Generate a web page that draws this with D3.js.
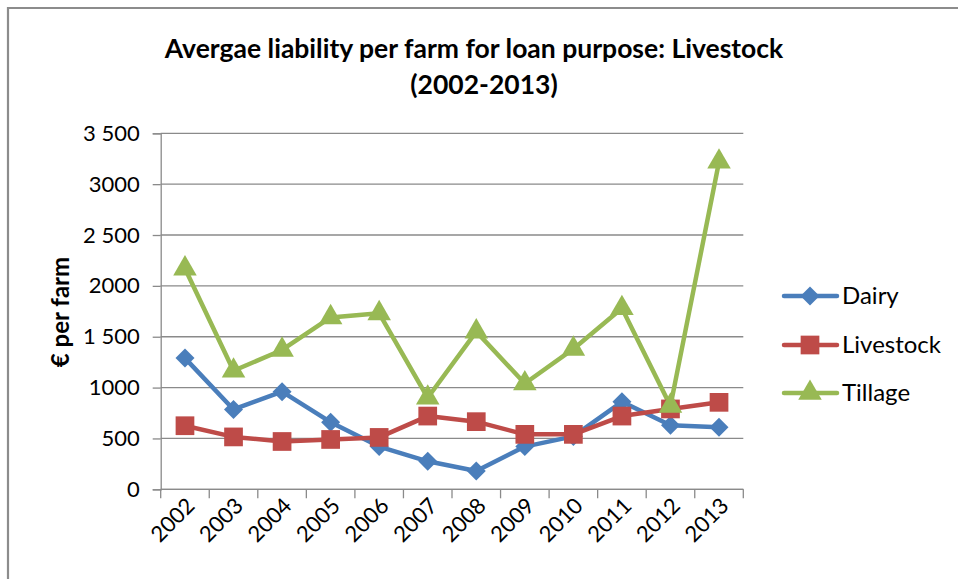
<!DOCTYPE html>
<html>
<head>
<meta charset="utf-8">
<script src="https://cdn.jsdelivr.net/npm/d3@7"></script>
<style>
  html, body { margin: 0; padding: 0; background: #fff; }
  svg { display: block; }
  text { font-family: Lato, "Open Sans", sans-serif; fill: #000; }
</style>
</head>
<body>
<svg id="chart" width="958" height="579"></svg>
<script>
// ---- data ----
const years = ["2002","2003","2004","2005","2006","2007","2008","2009","2010","2011","2012","2013"];
const dairy     = [1290, 785, 960, 660, 420, 275, 180, 420, 520, 860, 630, 610];
const livestock = [625, 515, 470, 490, 510, 720, 665, 540, 540, 720, 790, 855];
const tillage   = [2170, 1165, 1370, 1690, 1730, 900, 1550, 1040, 1380, 1780, 820, 3220];
const seriesNames = ["Dairy", "Livestock", "Tillage"];
const yTickValues = [0, 500, 1000, 1500, 2000, 2500, 3000, 3500];
const yTickLabels = ["0", "500", "1000", "1 500", "2000", "2 500", "3000", "3 500"];
const titleLines = ["Avergae liability per farm for loan purpose: Livestock", "(2002-2013)"];
const yAxisTitle = "€ per farm";

const colors = ["#4a7ebb", "#be4b48", "#98b954"];
const symbols = [d3.symbolDiamond2, d3.symbolSquare, d3.symbolTriangle];
const symSizes = [230, 350, 240];

const svg = d3.select("#chart");

// outer border (top and left visible)
svg.append("path")
  .attr("d", "M8,600 L8,8 L960,8")
  .attr("fill", "none").attr("stroke", "#8c8c8c").attr("stroke-width", 2.2);

const pLeft = 160.7, pRight = 743.3, pTop = 133.3, pBottom = 489.3;
const x = d3.scaleBand().domain(years).range([pLeft, pRight]).padding(0);
const y = d3.scaleLinear().domain([0, 3500]).range([pBottom, pTop]);

// gridlines
svg.append("g").selectAll("line").data(yTickValues).join("line")
  .attr("x1", pLeft).attr("x2", pRight)
  .attr("y1", d => y(d)).attr("y2", d => y(d))
  .attr("stroke", "#8a8a8a").attr("stroke-width", 1.3);

// y axis
const yAxis = d3.axisLeft(y).tickValues(yTickValues).tickSize(8).tickPadding(13)
  .tickFormat((d, i) => yTickLabels[i]);
const gy = svg.append("g").attr("transform", `translate(${pLeft},0)`).call(yAxis);
gy.select(".domain").attr("stroke", "#8a8a8a").attr("stroke-width", 1.3);
gy.selectAll(".tick line").attr("stroke", "#8a8a8a").attr("stroke-width", 1.3);
gy.selectAll(".tick text").attr("font-size", 22).attr("font-family", "Lato").attr("fill", "#000");

// x axis: line + boundary ticks
const gx = svg.append("g");
gx.append("line").attr("x1", pLeft).attr("x2", pRight).attr("y1", pBottom).attr("y2", pBottom)
  .attr("stroke", "#8a8a8a").attr("stroke-width", 1.3);
const boundaries = years.map(d => x(d)).concat([x(years[years.length - 1]) + x.bandwidth()]);
gx.selectAll("line.tk").data(boundaries).join("line").attr("class", "tk")
  .attr("x1", d => d).attr("x2", d => d).attr("y1", pBottom).attr("y2", pBottom + 9)
  .attr("stroke", "#8a8a8a").attr("stroke-width", 1.3);
gx.selectAll("text").data(years).join("text")
  .attr("transform", d => `translate(${x(d) + x.bandwidth() / 2 + 11},${pBottom + 18}) rotate(-45)`)
  .attr("text-anchor", "end")
  .attr("font-size", 22)
  .text(d => d);

// series
const allSeries = [dairy, livestock, tillage];
const line = d3.line().x((d, i) => x(years[i]) + x.bandwidth() / 2).y(d => y(d));
allSeries.forEach((vals, si) => {
  svg.append("path").datum(vals)
    .attr("d", line).attr("fill", "none")
    .attr("stroke", colors[si]).attr("stroke-width", 4.5).attr("stroke-linejoin", "round").attr("stroke-linecap", "round");
});
allSeries.forEach((vals, si) => {
  svg.append("g").selectAll("path").data(vals).join("path")
    .attr("d", d3.symbol().type(symbols[si]).size(symSizes[si]))
    .attr("transform", (d, i) => `translate(${x(years[i]) + x.bandwidth() / 2},${y(d)})`)
    .attr("fill", colors[si]);
});

// title
svg.append("text").attr("x", 474).attr("y", 58).attr("text-anchor", "middle")
  .attr("font-size", 26.5).attr("font-weight", "bold").text(titleLines[0]);
svg.append("text").attr("x", 484).attr("y", 94).attr("text-anchor", "middle")
  .attr("font-size", 26.5).attr("font-weight", "bold").text(titleLines[1]);

// y axis title
svg.append("text").attr("transform", "translate(69,312) rotate(-90)")
  .attr("text-anchor", "middle").attr("font-size", 24).attr("font-weight", "bold")
  .text(yAxisTitle);

// legend
const legY = [296, 345, 393];
seriesNames.forEach((name, si) => {
  const g = svg.append("g").attr("transform", `translate(0,${legY[si]})`);
  g.append("line").attr("x1", 784).attr("x2", 837).attr("y1", 0).attr("y2", 0)
    .attr("stroke", colors[si]).attr("stroke-width", 4.5).attr("stroke-linecap", "round");
  g.append("path").attr("d", d3.symbol().type(symbols[si]).size(symSizes[si]))
    .attr("transform", "translate(810,0)").attr("fill", colors[si]);
  g.append("text").attr("x", 842).attr("y", 0).attr("dy", "0.35em")
    .attr("font-size", 24).text(name);
});
</script>
</body>
</html>
